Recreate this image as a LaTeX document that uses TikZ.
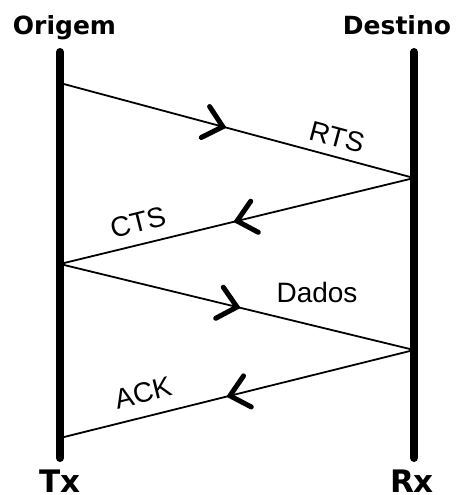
\documentclass[tikz,border=0pt]{standalone}
\usepackage{fontspec}
\setmainfont{Liberation Sans}
\newfontfamily\titlefont{DejaVu Sans}
\usetikzlibrary{decorations.markings}

\tikzset{
	timeline/.style={line width=8pt, line cap=round},
	msg/.style={line width=1.8pt, postaction={decorate},
		decoration={markings, mark=at position #1 with {
			\draw[line width=5pt, line cap=round] (-18pt,16pt) -- (0pt,0pt) -- (-18pt,-16pt);}}},
	head/.style={font=\titlefont\bfseries\fontsize{25}{30}\selectfont, anchor=base, inner sep=0pt},
	foot/.style={font=\titlefont\bfseries\fontsize{31}{36}\selectfont, anchor=base, inner sep=0pt},
	lbl/.style={font=\fontsize{28}{32}\selectfont, inner sep=0pt}
}

\begin{document}
\begin{tikzpicture}[x=1pt, y=-1pt]
		\useasboundingbox[fill=white] (0,0) rectangle (456,495);
		
		% ends of the two time lines
		\coordinate (o1) at (60,52);
		\coordinate (o2) at (60,458);
		\coordinate (d1) at (414,52);
		\coordinate (d2) at (414,458);
		
		% where the frames leave and arrive
		\coordinate (tx1) at (60,83);
		\coordinate (rx1) at (414,178);
		\coordinate (tx2) at (60,264);
		\coordinate (rx2) at (414,350);
		\coordinate (tx3) at (60,438);
		
		\draw[msg=0.46] (tx1) -- (rx1);
		\draw[msg=0.50] (rx1) -- (tx2);
		\draw[msg=0.50] (tx2) -- (rx2);
		\draw[msg=0.52] (rx2) -- (tx3);
		
		\draw[timeline] (o1) -- (o2);
		\draw[timeline] (d1) -- (d2);
		
		\node[lbl, rotate=-15] (rts) at (337,137) {RTS};
		\node[lbl, rotate=14] (cts) at (138,222) {CTS};
		\node[lbl] (dados) at (317,292) {Dados};
		\node[lbl, rotate=14] (ack) at (143,393) {ACK};
		
		\node[head] (origem) at (64.5,35) {Origem};
		\node[head] (destino) at (397,35) {Destino};
		\node[foot] (tx) at (60,492) {Tx};
		\node[foot] (rx) at (412,492) {Rx};
		%\draw[red] (o1) -- (d1);
\end{tikzpicture}
\end{document}
